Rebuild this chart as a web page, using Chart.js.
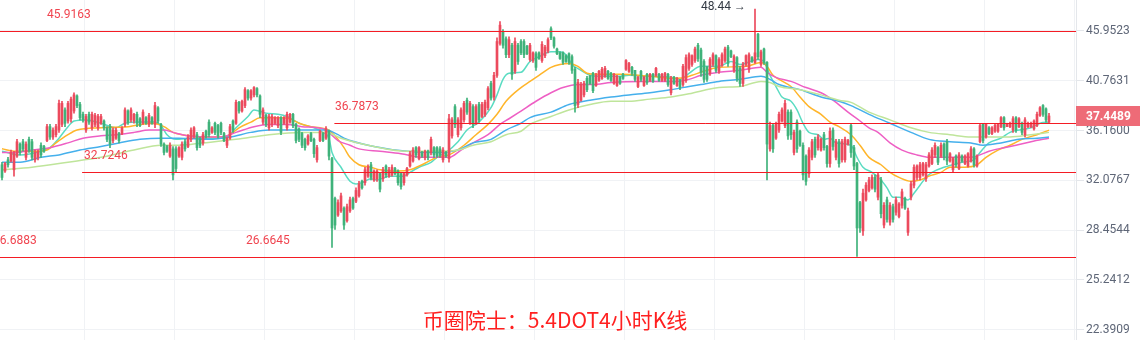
<!DOCTYPE html>
<html><head><meta charset="utf-8">
<script src="https://cdn.jsdelivr.net/npm/chart.js@4.4.1/dist/chart.umd.min.js"></script>
<style>html,body{margin:0;padding:0;background:#fff;overflow:hidden}#wrap{width:1140px;height:340px}</style>
</head><body><div id="wrap"><canvas id="c" width="1140" height="340"></canvas></div>
<script>
const opens=[
33.3,32.8,33.7,33.6,32.9,34.0,35.0,35.2,33.9,35.4,
35.2,33.7,33.9,34.9,34.8,35.3,36.5,35.6,35.8,36.2,
36.7,38.0,37.0,37.2,37.9,39.3,38.5,37.6,36.2,37.6,
36.4,36.7,36.4,36.8,37.0,36.4,36.5,35.3,35.5,35.9,
35.9,36.7,37.9,37.1,37.0,37.6,37.2,36.8,37.3,36.7,
37.3,36.7,38.2,36.7,35.0,34.8,34.0,34.6,34.6,34.0,
33.9,35.2,34.8,35.4,35.7,35.8,35.4,35.1,36.1,36.9,
36.0,36.8,36.6,36.8,35.9,34.9,35.5,37.0,36.8,38.7,
37.9,38.4,39.8,39.1,39.4,40.0,39.3,36.9,37.5,36.4,
36.7,36.8,36.6,37.3,36.8,36.4,36.9,37.6,36.7,36.3,
35.9,35.4,35.0,35.9,35.4,33.7,35.3,35.9,35.5,36.1,
33.8,30.7,29.5,29.8,30.0,29.1,29.8,30.7,30.5,30.9,
32.0,31.9,32.4,33.3,32.1,32.2,32.6,32.2,33.2,32.4,
32.5,33.0,32.8,32.6,31.9,32.5,33.2,33.6,34.7,33.8,
34.3,33.9,34.4,34.3,34.7,34.7,34.6,33.7,34.3,33.8,
35.7,38.3,35.8,36.4,37.1,38.9,36.8,38.3,36.8,38.5,
37.4,37.6,38.2,40.5,39.2,41.3,44.6,45.9,45.1,43.4,
44.4,41.7,44.4,44.8,44.8,44.3,42.9,42.8,43.5,43.6,
42.8,43.3,43.8,46.2,45.2,44.0,43.6,43.6,43.3,43.5,
43.2,41.9,38.5,38.9,39.4,41.0,41.2,41.5,40.3,40.8,
41.0,41.2,41.7,41.5,40.5,40.3,41.1,41.4,41.9,41.7,
42.1,41.8,40.2,41.7,40.3,41.4,40.8,41.4,41.3,41.4,
40.8,40.8,41.4,39.6,41.1,40.3,40.8,40.4,40.8,42.0,
42.4,42.8,44.4,43.9,42.7,42.1,41.5,42.4,43.3,41.7,
42.3,42.8,44.2,43.8,41.8,43.1,42.0,40.5,42.4,41.9,
43.1,42.6,45.6,42.4,44.0,42.6,34.6,36.6,35.5,36.2,
37.0,36.6,37.8,37.8,34.3,36.9,36.1,34.9,34.0,32.6,
33.9,35.4,34.7,34.5,35.8,34.8,33.4,36.2,33.9,35.2,
33.7,33.7,35.0,36.6,34.7,33.4,30.4,28.4,30.6,31.3,
31.5,32.3,30.8,32.1,28.8,30.6,29.0,30.1,29.7,29.4,
30.2,30.7,28.3,30.8,31.7,32.3,32.3,32.5,32.2,33.2,
33.4,34.1,34.7,34.0,35.0,35.2,33.6,32.9,34.0,33.0,
34.0,33.4,33.2,33.6,34.6,33.2,35.2,36.7,35.6,36.4,
35.9,36.1,36.1,36.5,37.3,36.5,36.5,36.2,37.3,36.5,
36.8,35.8,36.5,36.5,36.3,36.6,37.5,38.4,38.1,36.9];
const highs=[
33.5,33.5,33.9,34.5,34.4,35.4,35.1,35.4,35.2,35.6,
35.4,34.5,34.5,35.1,34.9,36.7,36.7,36.4,36.7,38.9,
38.8,38.2,38.8,39.2,39.6,39.4,38.7,37.8,37.6,37.8,
37.8,37.7,37.6,37.6,37.1,36.5,36.7,36.4,36.4,36.0,
36.5,38.2,38.0,38.2,37.7,37.8,37.3,38.0,37.4,37.7,
37.4,38.7,38.3,36.8,35.1,34.9,35.1,34.8,34.8,34.8,
35.2,35.4,35.8,36.4,36.5,36.0,35.6,36.0,36.2,37.1,
36.5,36.9,36.7,36.9,36.0,35.6,36.7,37.1,38.9,38.8,
38.9,40.1,39.9,39.9,40.2,40.1,39.4,38.2,37.6,37.6,
37.6,37.4,37.4,37.4,37.4,37.8,37.7,37.7,36.8,36.4,
36.0,35.5,35.8,36.0,35.5,34.9,36.2,36.0,36.5,36.2,
33.9,30.8,30.6,31.1,30.1,30.3,30.8,30.8,31.5,32.0,
32.1,33.1,33.3,33.5,32.9,32.9,32.7,33.1,33.3,33.1,
33.3,33.1,32.9,32.7,32.7,33.1,34.4,34.7,34.8,34.8,
34.4,34.5,34.5,35.6,34.8,34.8,34.8,34.7,34.4,37.6,
37.3,38.5,37.3,38.2,38.8,39.1,38.8,38.5,38.5,38.7,
38.7,38.9,40.2,40.7,41.6,45.2,47.0,46.1,45.3,45.3,
44.6,45.2,44.6,45.0,45.0,44.4,44.6,43.7,43.7,43.7,
44.8,44.4,45.2,46.4,45.3,44.1,43.7,43.7,43.4,43.6,
43.4,42.1,40.9,40.6,40.7,41.2,41.3,41.6,41.5,41.8,
42.1,42.2,41.8,41.6,41.5,41.3,41.2,41.5,42.9,42.6,
42.2,41.8,41.2,41.8,41.2,41.5,41.5,41.5,42.1,41.5,
41.5,41.6,41.5,41.2,41.2,41.1,40.9,42.4,43.4,43.6,
43.4,44.2,44.6,44.1,42.9,42.2,43.1,43.6,43.4,43.1,
43.6,44.2,44.4,43.9,43.4,43.2,42.2,42.6,43.4,43.6,
43.2,48.44,45.7,43.9,44.1,42.7,36.9,36.8,36.9,37.8,
38.2,38.9,38.0,38.0,36.2,37.1,36.2,35.1,34.1,34.7,
35.4,35.6,35.8,35.5,36.0,34.9,36.4,36.4,35.4,35.4,
35.4,35.6,35.4,36.8,34.9,33.5,30.5,31.4,31.9,32.3,
32.5,32.5,32.7,32.3,30.4,30.8,30.4,30.3,30.8,30.4,
31.4,30.8,30.0,32.0,33.3,33.3,33.5,33.5,33.5,34.3,
34.7,35.1,34.8,35.1,35.1,35.4,34.3,33.9,34.1,34.3,
34.1,34.1,34.3,34.8,34.7,34.1,36.8,36.8,36.8,36.5,
36.5,36.7,36.8,37.4,37.4,36.8,36.9,37.4,37.4,37.3,
36.9,37.3,36.9,36.9,37.1,37.8,38.3,38.5,38.2,37.7];
const lows=[
32.1,32.7,33.1,33.5,32.4,33.9,34.1,34.4,33.7,34.3,
33.7,33.5,33.7,33.9,34.3,35.2,35.4,35.4,35.6,36.0,
36.5,36.5,36.8,36.9,37.7,38.2,37.1,36.9,36.0,36.7,
36.2,36.5,36.2,36.7,36.2,35.2,34.7,35.1,35.4,35.1,
35.8,36.5,36.7,36.9,36.8,36.5,36.5,36.7,36.7,36.5,
36.7,36.4,36.8,34.8,34.1,34.3,33.9,32.1,32.7,33.9,
33.7,34.4,34.7,35.2,35.5,34.5,34.7,34.9,35.5,35.6,
35.9,35.8,35.5,35.8,35.2,34.7,35.4,36.0,36.7,37.7,
37.8,38.2,38.9,38.9,39.2,39.2,37.3,36.7,36.5,36.2,
36.5,36.7,36.4,35.8,36.7,36.2,36.8,36.4,35.1,35.2,
34.7,34.5,34.9,35.2,33.9,33.5,35.2,35.2,35.4,33.7,
27.3,28.5,29.4,29.7,28.5,29.0,29.7,29.9,30.4,30.8,
31.4,31.7,32.3,32.1,32.0,32.0,31.2,32.0,32.3,32.3,
32.4,32.5,31.7,31.4,31.7,32.4,33.1,33.5,33.9,33.7,
33.9,33.7,33.7,34.1,33.9,33.9,33.9,33.5,33.9,33.5,
35.5,36.4,35.6,36.2,36.9,37.6,36.7,36.4,36.7,36.9,
37.3,37.4,38.0,38.9,38.9,41.1,44.4,44.1,43.1,43.1,
40.9,41.5,42.4,43.4,43.1,43.4,42.7,42.6,41.8,42.9,
42.6,43.1,43.6,45.0,44.1,43.4,42.9,42.4,42.6,42.4,
41.5,37.8,38.2,38.8,39.2,39.7,40.4,39.6,40.2,40.7,
40.9,41.1,40.9,40.7,40.4,40.2,40.4,40.9,41.8,41.6,
41.3,40.7,40.1,40.7,40.2,40.4,40.7,40.6,41.2,40.7,
40.7,40.7,40.2,39.4,40.4,40.2,39.9,40.2,40.6,41.8,
42.2,42.6,42.7,41.2,40.6,40.7,41.3,42.2,41.6,41.5,
42.2,42.6,42.2,43.1,41.6,40.7,40.2,40.2,42.2,41.6,
42.6,42.5,42.9,42.2,42.4,32.1,34.4,34.3,35.4,36.0,
36.9,36.4,35.4,35.4,34.1,34.3,34.8,32.1,31.7,32.3,
33.7,33.9,34.5,34.4,34.5,33.1,33.1,34.5,33.7,33.1,
33.5,33.5,34.9,33.9,32.9,26.7,28.3,28.1,30.5,31.2,
31.4,31.2,30.6,29.3,28.6,29.0,28.8,29.0,29.5,29.3,
30.0,29.9,28.1,30.6,31.5,32.1,32.1,32.4,32.0,33.1,
33.3,33.9,33.3,33.9,33.7,33.3,33.5,32.7,33.1,32.9,
33.5,33.3,33.1,33.5,33.1,33.1,35.1,35.1,35.5,35.8,
35.8,36.0,36.0,36.4,36.2,36.5,36.4,36.0,36.0,36.4,
35.8,35.6,36.4,36.4,36.2,36.5,37.4,37.4,36.9,36.8];
const closes=[
32.3,33.4,33.3,34.3,34.2,35.2,34.3,34.6,35.0,34.5,
33.9,34.3,34.4,34.1,34.4,36.5,35.6,36.2,36.5,38.6,
38.6,36.8,38.6,39.0,39.4,38.4,37.3,37.1,37.4,36.9,
37.6,37.5,37.4,37.4,36.4,35.4,35.0,36.2,36.2,35.3,
36.4,38.0,36.9,38.0,37.6,36.8,36.6,37.8,36.8,37.5,
36.8,38.4,37.0,35.0,34.3,34.4,34.9,32.5,33.0,34.7,
35.0,34.6,35.6,36.2,36.4,34.7,34.9,35.8,35.6,35.8,
36.4,36.0,35.7,36.0,35.3,35.5,36.5,36.2,38.7,37.9,
38.8,39.9,39.1,39.8,40.1,39.4,37.6,38.0,36.7,37.4,
37.4,37.3,37.3,36.0,37.3,37.6,37.6,36.6,35.3,35.4,
34.9,34.7,35.7,35.3,34.2,34.7,36.1,35.3,36.3,34.0,
28.6,28.8,30.4,30.9,28.8,30.1,30.6,30.0,31.3,31.8,
31.5,32.9,33.1,32.3,32.8,32.8,31.4,32.9,32.5,32.9,
33.1,32.6,31.9,31.6,32.6,33.0,34.2,34.5,34.1,34.7,
34.0,34.4,33.9,35.4,34.1,34.0,34.1,34.5,34.0,37.2,
37.1,36.7,37.1,38.0,38.6,37.8,38.6,36.7,38.3,37.1,
38.5,38.7,40.0,39.1,41.3,44.8,46.6,44.4,43.4,45.0,
41.4,44.8,42.7,43.6,43.4,43.5,44.4,43.6,42.1,43.0,
44.5,44.2,45.0,45.2,44.3,43.5,43.0,42.6,42.7,42.6,
41.8,38.4,40.6,40.4,40.5,39.9,40.5,39.8,41.3,41.7,
41.9,42.0,41.0,40.8,41.4,41.2,40.5,41.0,42.8,42.5,
41.5,40.9,41.1,40.9,41.1,40.6,41.4,40.7,42.0,40.8,
41.4,41.5,40.4,41.0,40.5,41.0,40.1,42.2,43.1,43.4,
43.3,44.0,43.0,41.6,40.9,40.9,42.9,43.4,41.8,42.9,
43.4,44.0,42.5,43.2,43.2,41.0,40.5,42.4,43.3,43.4,
42.7,43.6,43.2,43.7,42.6,35.0,36.6,34.6,36.7,37.6,
38.0,38.6,35.7,35.8,36.0,34.6,34.9,32.5,32.0,34.5,
35.2,34.1,35.6,35.4,34.7,33.4,36.1,34.8,35.2,33.4,
35.2,35.4,35.3,34.3,33.2,28.6,28.6,31.1,31.7,32.1,
32.3,31.4,32.5,29.6,30.2,29.2,30.2,29.2,30.6,30.3,
31.2,30.0,29.8,31.8,33.1,33.2,33.3,33.4,33.3,34.1,
34.5,34.9,33.5,34.9,33.9,33.6,34.2,33.8,33.3,34.1,
33.6,34.0,34.2,34.6,33.3,34.0,36.6,35.3,36.7,35.9,
36.4,36.6,36.7,37.3,36.4,36.8,36.8,37.2,36.2,37.2,
36.0,37.1,36.8,36.8,37.0,37.6,38.2,37.6,37.1,37.4489];

// moving-average lines, read at sample candles
const ma1Idx=[0,6,13,16,19,22,24,28,33,38,41,46,51,53,55,58,63,67,73,75,78,82,84,88,92,95,97,100,104,107,109,110,113,116,118,120,123,125,129,134,136,139,143,145,148,152,155,159,163,165,167,169,173,176,179,183,186,188,190,193,196,199,206,209,216,223,226,229,233,239,243,246,252,254,256,258,260,263,265,267,269,272,274,276,278,283,285,287,290,293,295,297,299,302,304,306,308,310,314,317,320,324,326,329,333,336,343,346,349];
const ma1Val=[34.4,34.1,34.4,34.7,35.5,36.5,37.0,37.1,36.8,36.4,36.8,36.9,36.9,36.6,35.8,35.4,35.5,35.5,35.5,35.6,36.4,37.4,38.0,37.7,37.6,37.4,37.1,36.7,36.4,36.0,35.5,34.3,33.1,32.0,31.8,31.9,32.2,32.1,32.4,32.4,32.7,33.1,33.5,33.9,34.3,35.2,36.2,36.9,38.2,39.4,40.9,41.5,41.6,42.7,43.2,43.7,43.7,43.4,42.4,41.8,41.3,41.2,41.2,41.3,41.2,41.1,40.9,41.5,42.2,42.2,42.7,42.4,42.9,42.7,41.3,40.2,39.2,38.8,38.0,36.8,36.0,35.8,35.4,35.5,35.1,34.9,33.9,33.1,32.7,32.1,31.5,30.8,30.8,30.6,31.1,31.7,32.3,32.7,33.1,33.3,33.5,33.7,34.3,35.1,35.5,36.0,36.4,36.8,36.9];
const ma2Idx=[0,4,11,15,18,22,25,33,42,50,54,57,60,67,73,76,79,83,86,93,96,99,103,106,109,112,114,116,119,123,126,132,136,140,145,149,154,158,162,165,168,173,176,179,183,186,189,192,195,198,207,216,225,228,230,235,239,248,253,255,257,259,263,266,269,273,276,279,283,286,289,293,296,299,303,306,309,313,316,321,325,328,332,336,340,345,349];
const ma2Val=[34.6,34.4,34.4,34.5,35.1,35.8,36.2,36.4,36.5,36.8,36.5,36.0,35.8,35.6,35.6,35.8,36.4,36.9,37.3,37.3,37.2,36.8,36.5,36.4,36.2,35.4,34.7,33.9,33.3,33.1,32.9,32.8,32.9,33.3,33.9,34.1,34.9,35.8,36.7,37.6,38.8,40.1,40.7,41.3,42.1,42.4,42.5,42.2,41.5,41.4,41.4,41.2,41.0,41.1,41.3,41.8,42.1,42.2,42.6,42.2,41.3,40.9,40.2,39.2,38.3,37.6,36.9,36.5,35.8,34.9,33.9,33.3,32.7,32.3,32.0,32.1,32.4,32.7,33.1,33.1,33.3,33.9,34.5,34.9,35.4,35.8,36.2];
const ma3Idx=[0,5,10,16,22,27,33,38,44,49,54,57,62,67,73,78,84,89,95,100,105,108,112,116,119,126,133,140,146,149,153,157,162,166,169,173,178,183,187,192,197,203,214,225,229,233,239,246,253,255,258,263,268,273,277,282,286,289,292,296,300,305,309,323,326,329,334,338,343,349];
const ma3Val=[34.3,34.3,34.5,34.7,35.1,35.5,35.7,35.8,36.0,36.2,36.2,36.0,35.7,35.6,35.6,36.0,36.5,36.7,36.7,36.5,36.4,36.2,35.3,34.9,34.6,34.4,34.2,33.9,33.9,33.9,34.5,35.1,35.8,36.7,37.2,37.9,38.8,39.6,40.1,40.4,40.4,40.6,40.7,40.7,40.9,41.3,41.6,41.8,42.1,41.6,41.1,40.7,40.1,39.6,38.9,37.8,37.0,36.4,36.0,35.1,34.5,34.1,33.9,33.9,34.1,34.4,34.7,34.9,35.2,35.5];
const ma4Idx=[0,6,13,19,26,33,39,46,53,59,69,76,83,89,96,103,108,112,114,124,135,146,152,157,163,168,173,176,183,189,196,203,209,216,223,229,233,239,246,253,256,259,266,273,279,283,289,296,303,309,316,323,327,333,339,345,349];
const ma4Val=[33.5,33.5,33.9,34.1,34.5,34.8,35.1,35.4,35.5,35.5,35.4,35.6,36.0,36.2,36.2,36.2,36.2,35.8,35.5,34.8,34.4,34.3,34.5,35.1,35.4,36.2,36.8,37.3,37.8,38.5,38.9,39.2,39.4,39.6,39.9,40.2,40.4,40.7,40.9,41.2,40.9,40.4,39.9,39.2,38.8,38.4,37.6,36.8,36.0,35.4,35.2,35.1,34.9,35.1,35.4,35.5,35.6];
const ma5Idx=[0,10,22,33,44,53,59,67,78,89,100,108,113,124,135,146,152,157,163,168,173,176,183,189,196,203,209,216,223,229,239,246,253,256,259,266,273,279,283,289,296,303,309,316,323,336,343,349];
const ma5Val=[32.9,33.1,33.5,33.9,34.5,34.9,34.9,35.1,35.4,35.8,36.0,36.0,35.5,34.8,34.4,34.4,34.5,34.9,35.2,35.8,36.1,36.7,37.4,38.0,38.5,38.8,38.8,39.0,39.2,39.5,40.1,40.2,40.7,40.6,40.2,39.9,39.4,38.9,38.7,37.8,37.1,36.4,36.0,35.8,35.6,35.6,35.8,36.0];

const yTicks=[22.3909,25.2412,28.4544,32.0767,36.1600,40.7631,45.9523];
const levelValues=[45.9163,36.7873,32.7246,26.6645];
const levelStart=[-0.7,110.8,26.7,-0.7];
const levelLabelText=['45.9163','36.7873','32.7246','26.6883','26.6645'];
const levelLabelValue=[45.9163,36.7873,32.7246,26.6645,26.6645];
const levelLabelX=[47,335,84,-7,246];
const peakIndex=251;
const titleText='币圈院士：5.4DOT4小时K线';

const X_MIN=-2/3, X_MAX=-2/3+1076/3;
const RED='#ec4a5d', GREEN='#3fb27a';
const N=opens.length;
const idx=opens.map((_,i)=>i);
const candleColor=idx.map(i=>closes[i]>=opens[i]?RED:GREEN);
const pts=(ix,vals)=>ix.map((v,k)=>({x:v,y:vals[k]}));
const maDs=(ix,vals,color)=>({type:'line',data:pts(ix,vals),borderColor:color,borderWidth:1.5,pointRadius:0,cubicInterpolationMode:'monotone',order:3});

const datasets=[
  maDs(ma5Idx,ma5Val,'#bfe59b'),
  maDs(ma4Idx,ma4Val,'#45b0ec'),
  maDs(ma3Idx,ma3Val,'#ee5fc4'),
  maDs(ma2Idx,ma2Val,'#ffb52a'),
  maDs(ma1Idx,ma1Val,'#5adcc2'),
  {type:'bar',data:idx.map(i=>({x:i,y:[lows[i],highs[i]]})),backgroundColor:candleColor,barThickness:1,grouped:false,order:2},
  {type:'bar',data:idx.map(i=>({x:i,y:[opens[i],closes[i]]})),backgroundColor:candleColor,barThickness:2,grouped:false,order:1},
];

const overlay={
  id:'overlay',
  afterDatasetsDraw(chart){
    const ctx=chart.ctx, xs=chart.scales.x, ys=chart.scales.y, ca=chart.chartArea;
    ctx.save();
    ctx.beginPath();ctx.rect(ca.left,ca.top,ca.right-ca.left,ca.bottom-ca.top);ctx.clip();
    ctx.strokeStyle='#f41c24';ctx.lineWidth=1;
    levelValues.forEach((v,k)=>{
      const py=Math.round(ys.getPixelForValue(v))+0.5;
      const px=Math.max(ca.left,xs.getPixelForValue(levelStart[k]));
      ctx.beginPath();ctx.moveTo(px,py);ctx.lineTo(ca.right,py);ctx.stroke();
    });
    ctx.font='12px Roboto';ctx.textBaseline='middle';ctx.textAlign='left';ctx.fillStyle='#f0444f';
    levelLabelText.forEach((t,k)=>ctx.fillText(t,levelLabelX[k],ys.getPixelForValue(levelLabelValue[k])-16));
    ctx.fillStyle='#333a44';ctx.textAlign='right';
    ctx.fillText(highs[peakIndex].toFixed(2)+' →',xs.getPixelForValue(peakIndex)-9,ys.getPixelForValue(highs[peakIndex])-2);
    ctx.restore();
  },
  afterDraw(chart){
    const ctx=chart.ctx, ys=chart.scales.y, ca=chart.chartArea;
    ctx.save();
    const last=closes[N-1], ly=Math.round(ys.getPixelForValue(last));
    ctx.fillStyle='#ee6b77';ctx.fillRect(ca.right,ly-10,chart.width-ca.right,20);
    ctx.fillStyle='#ffffff';ctx.font='bold 12px Roboto';ctx.textBaseline='middle';ctx.textAlign='left';
    ctx.fillText(last.toFixed(4),ca.right+10,ly+1);
    ctx.fillStyle='#ff2020';ctx.font='21px "Noto Sans CJK SC"';ctx.textAlign='center';
    ctx.fillText(titleText,555,320);
    ctx.restore();
  }
};

new Chart(document.getElementById('c'),{
  type:'bar',
  data:{datasets},
  options:{
    responsive:false,animation:false,devicePixelRatio:1,
    layout:{padding:0},
    plugins:{legend:{display:false},tooltip:{enabled:false}},
    scales:{
      x:{type:'linear',min:X_MIN,max:X_MAX,offset:false,
        ticks:{display:false},grid:{color:'#f0f2f5',drawTicks:false},border:{display:false},
        afterBuildTicks:s=>{const t=[];for(let v=12.43;v<X_MAX;v+=30)t.push({value:v});s.ticks=t;},
        afterFit:s=>{s.height=0;s.paddingLeft=0;s.paddingRight=0;}},
      y:{type:'logarithmic',position:'right',min:21.84,max:49.51,
        afterBuildTicks:s=>{s.ticks=yTicks.map(v=>({value:v}));},
        ticks:{callback:v=>Number(v).toFixed(4),color:'#5e6677',font:{family:'Roboto',size:12},padding:2,autoSkip:false},
        grid:{color:'#f0f2f5',tickLength:8,tickColor:'#e4e7eb'},border:{color:'#e4e7eb'},
        afterFit:s=>{s.width=64;s.paddingTop=0;s.paddingBottom=0;}}
    }
  },
  plugins:[overlay]
});
</script></body></html>
